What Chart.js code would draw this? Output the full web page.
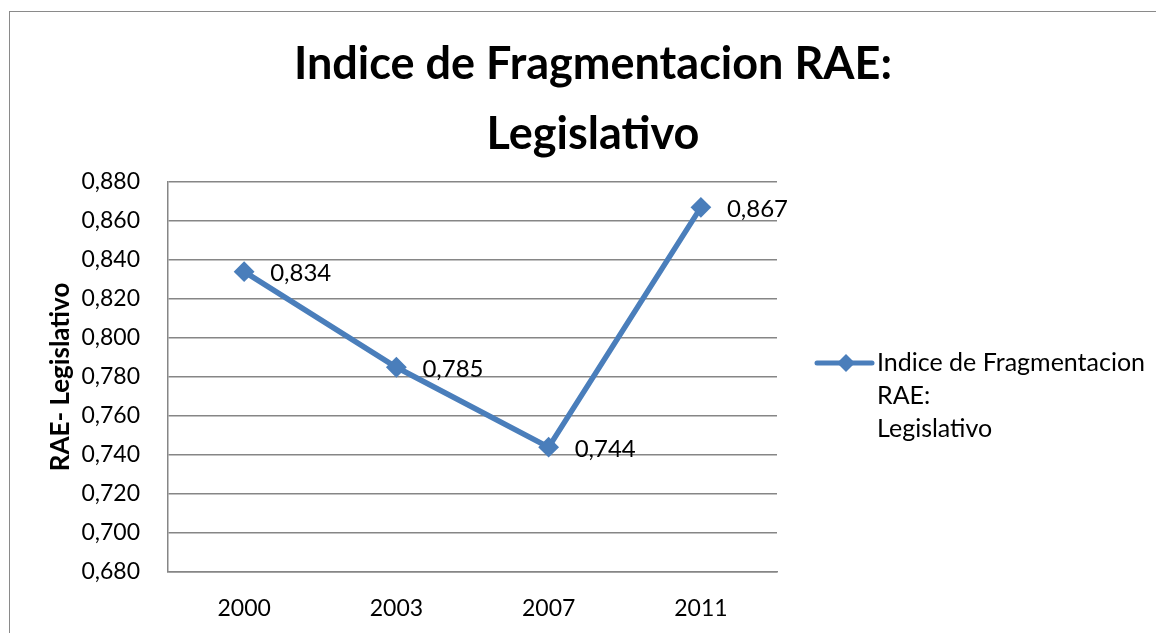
<!DOCTYPE html>
<html>
<head>
<meta charset="utf-8">
<script src="https://cdn.jsdelivr.net/npm/chart.js@4"></script>
<style>
  html, body { margin: 0; padding: 0; background: #fff; }
  body { width: 1156px; height: 633px; position: relative; overflow: hidden; }
  #frame { position: absolute; left: 9px; top: 11px; width: 1200px; height: 700px; border-left: 1.5px solid #8a8a8a; border-top: 1.5px solid #8a8a8a; }
  #rae { position: absolute; left: 30px; top: 0; }
</style>
</head>
<body>
<div id="frame"></div>
<canvas id="rae" width="1126" height="633"></canvas>
<script>
const years = ['2000', '2003', '2007', '2011'];
const raeValues = [0.834, 0.785, 0.744, 0.867];
const titleLines = ['Indice de Fragmentacion RAE:', 'Legislativo'];
const legendLines = ['Indice de Fragmentacion', 'RAE:', 'Legislativo'];
const yAxisTitle = 'RAE- Legislativo';
const yMin = 0.68;
const yMax = 0.88;
const yStep = 0.02;

const FONT = 'Lato, "Open Sans", sans-serif';
const LINE_COLOR = '#4A7EBB';
const GRID_COLOR = '#868686';

const fmt = (v) => Number(v).toFixed(3).replace('.', ',');

// title centred over the whole frame (not only the plot + legend padding)
const frameTitle = {
  id: 'frameTitle',
  afterDraw(chart) {
    const ctx = chart.ctx;
    ctx.save();
    ctx.font = `bold 45px ${FONT}`;
    ctx.fillStyle = '#000';
    ctx.textAlign = 'center';
    ctx.textBaseline = 'middle';
    titleLines.forEach((line, i) => {
      ctx.fillText(line, chart.width / 2, 64 + i * 70);
    });
    ctx.restore();
  }
};

// value labels to the right of each point
const valueLabels = {
  id: 'valueLabels',
  afterDatasetsDraw(chart) {
    const ctx = chart.ctx;
    const meta = chart.getDatasetMeta(0);
    ctx.save();
    ctx.font = `24px ${FONT}`;
    ctx.fillStyle = '#000';
    ctx.textAlign = 'left';
    ctx.textBaseline = 'middle';
    meta.data.forEach((pt, i) => {
      ctx.fillText(fmt(chart.data.datasets[0].data[i]), pt.x + 26, pt.y + 2);
    });
    ctx.restore();
  }
};

// legend on the right, text wrapped on three lines
const sideLegend = {
  id: 'sideLegend',
  afterDraw(chart) {
    const ctx = chart.ctx;
    const area = chart.chartArea;
    const x0 = area.right + 40;
    const y0 = (area.top + area.bottom) / 2 - 14;
    ctx.save();
    ctx.strokeStyle = LINE_COLOR;
    ctx.lineWidth = 5;
    ctx.lineCap = 'round';
    ctx.beginPath();
    ctx.moveTo(x0, y0);
    ctx.lineTo(x0 + 55, y0);
    ctx.stroke();
    const cx = x0 + 29;
    ctx.fillStyle = LINE_COLOR;
    ctx.beginPath();
    ctx.moveTo(cx, y0 - 9);
    ctx.lineTo(cx + 9, y0);
    ctx.lineTo(cx, y0 + 9);
    ctx.lineTo(cx - 9, y0);
    ctx.closePath();
    ctx.fill();
    ctx.font = `25px ${FONT}`;
    ctx.fillStyle = '#000';
    ctx.textAlign = 'left';
    ctx.textBaseline = 'middle';
    legendLines.forEach((line, i) => {
      ctx.fillText(line, x0 + 60, y0 + i * 33);
    });
    ctx.restore();
  }
};

new Chart(document.getElementById('rae'), {
  type: 'line',
  data: {
    labels: years,
    datasets: [
      {
        label: legendLines.join(' '),
        data: raeValues,
        borderColor: LINE_COLOR,
        backgroundColor: LINE_COLOR,
        borderWidth: 5.5,
        tension: 0,
        pointStyle: 'rectRot',
        pointRadius: 9,
        pointBorderWidth: 2,
        pointBackgroundColor: LINE_COLOR,
        pointBorderColor: LINE_COLOR
      }
    ]
  },
  options: {
    responsive: false,
    animation: false,
    layout: { padding: { left: 0, right: 379, top: 182, bottom: 0 } },
    plugins: {
      legend: { display: false },
      tooltip: { enabled: false },
      title: { display: false }
    },
    scales: {
      x: {
        offset: true,
        grid: { display: false, drawTicks: false },
        border: { display: true, color: GRID_COLOR, width: 1.5 },
        ticks: { color: '#000', font: { family: FONT, size: 23 }, padding: 23, maxRotation: 0 },
        afterFit: (scale) => { scale.height = 61; }
      },
      y: {
        min: yMin,
        max: yMax,
        grid: { color: GRID_COLOR, lineWidth: 1.5, drawTicks: false },
        border: { display: true, color: GRID_COLOR, width: 1.5 },
        ticks: {
          stepSize: yStep,
          color: '#000',
          padding: 28,
          font: { family: FONT, size: 23 },
          callback: (value) => fmt(value)
        },
        title: {
          display: true,
          text: yAxisTitle,
          color: '#000',
          font: { family: FONT, size: 26, weight: 'bold', lineHeight: 1.2 },
          padding: { top: 15, bottom: 0 }
        },
        afterFit: (scale) => { scale.width = 138; }
      }
    }
  },
  plugins: [valueLabels, sideLegend, frameTitle]
});
</script>
</body>
</html>
